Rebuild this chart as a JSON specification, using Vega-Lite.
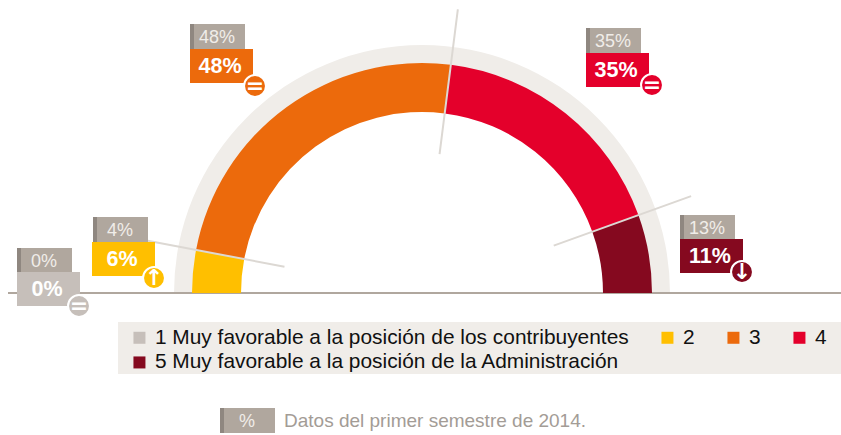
{
"$schema":"https://vega.github.io/schema/vega-lite/v6.json",
"width":841,"height":435,"padding":0,"background":"white",
"autosize":{"type":"fit","contains":"padding"},
"config":{"view":{"stroke":null},"font":"Liberation Sans"},
"datasets":{
"actual":[
{"nivel":1,"categoria":"1 Muy favorable a la posición de los contribuyentes","valor":0,"etiqueta":"0%","cambio":"="},
{"nivel":2,"categoria":"2","valor":6,"etiqueta":"6%","cambio":"↑"},
{"nivel":3,"categoria":"3","valor":48,"etiqueta":"48%","cambio":"="},
{"nivel":4,"categoria":"4","valor":35,"etiqueta":"35%","cambio":"="},
{"nivel":5,"categoria":"5 Muy favorable a la posición de la Administración","valor":11,"etiqueta":"11%","cambio":"↓"}],
"previo":[
{"nivel":1,"etiqueta":"0%"},{"nivel":2,"etiqueta":"4%"},{"nivel":3,"etiqueta":"48%"},{"nivel":4,"etiqueta":"35%"},{"nivel":5,"etiqueta":"13%"},{"nivel":6,"etiqueta":"%"}],
"limites":[{"limite":6},{"limite":54},{"limite":89}],
"nota":[{"nivel":6,"texto":"Datos del primer semestre de 2014."}],
"fondo":[{"inicio":0,"fin":100}]
},
"resolve":{"scale":{"x":"independent","y":"independent"}},
"layer":[
{"data":{"name":"fondo"},"mark":{"type":"arc","radius":248,"radius2":229,"fill":"#f0ede9"},
 "encoding":{"x":{"value":422},"y":{"value":293},"theta":{"field":"inicio","type":"quantitative","scale":{"domain":[0,100],"range":[-1.5708,1.5708]}},"theta2":{"field":"fin"}}},
{"data":{"name":"fondo"},"mark":{"type":"rule","color":"#b0a79e","strokeWidth":2},"encoding":{"x":{"value":8},"x2":{"value":841},"y":{"value":293}}},
{"data":{"name":"actual"},"mark":{"type":"arc","radius":230,"radius2":181},
 "encoding":{"x":{"value":422},"y":{"value":293},
  "theta":{"field":"valor","type":"quantitative","stack":true,"scale":{"domain":[0,100],"range":[-1.5708,1.5708]}},
  "order":{"field":"nivel"},
  "color":{"field":"categoria","type":"nominal","scale":{"domain":["1 Muy favorable a la posición de los contribuyentes","2","3","4","5 Muy favorable a la posición de la Administración"],"range":["#c6bfba","#ffbf00","#ec6a0c","#e4002b","#85091f"]},
   "legend":{"orient":"none","direction":"horizontal","legendX":129,"legendY":327,"title":null,"columns":4,"columnPadding":28,"rowPadding":3,"labelFontSize":20.9,"labelColor":"#111111","labelLimit":600,"labelOffset":5,"symbolType":"square","symbolSize":144,"symbolStrokeWidth":0,"symbolOpacity":1,"padding":0,"zindex":1}}}},
{"data":{"name":"limites"},"mark":{"type":"arc","radius":286,"radius2":140,"fill":null,"stroke":"#dcd8d3","strokeWidth":2},
 "encoding":{"x":{"value":422},"y":{"value":293},"theta":{"field":"limite","type":"quantitative","scale":{"domain":[0,100],"range":[-1.5708,1.5708]}},"theta2":{"field":"limite"}}},
{"data":{"name":"fondo"},"mark":{"type":"rect","fill":"#f0ede9"},"encoding":{"x":{"value":118},"x2":{"value":841},"y":{"value":322},"y2":{"value":374}}},
{"data":{"name":"previo"},"mark":{"type":"rect","fill":"#b0a79e","x2Offset":55,"y2Offset":25},
 "encoding":{"x":{"field":"nivel","type":"quantitative","axis":null,"scale":{"domain":[1,2,3,4,5,6],"range":[17,93,190,586,680,220],"nice":false,"zero":false}},"x2":{"field":"nivel"},
  "y":{"field":"nivel","type":"quantitative","axis":null,"scale":{"domain":[1,2,3,4,5,6],"range":[248,217,24,28,215,408],"nice":false,"zero":false}},"y2":{"field":"nivel"}}},
{"data":{"name":"previo"},"mark":{"type":"rect","fill":"#8f8780","x2Offset":4,"y2Offset":25},
 "encoding":{"x":{"field":"nivel","type":"quantitative","axis":null,"scale":{"domain":[1,2,3,4,5,6],"range":[17,93,190,586,680,220],"nice":false,"zero":false}},"x2":{"field":"nivel"},
  "y":{"field":"nivel","type":"quantitative","axis":null,"scale":{"domain":[1,2,3,4,5,6],"range":[248,217,24,28,215,408],"nice":false,"zero":false}},"y2":{"field":"nivel"}}},
{"data":{"name":"previo"},"mark":{"type":"text","fontSize":18,"color":"#f0ede9","align":"center","baseline":"middle","xOffset":27,"yOffset":14},
 "encoding":{"text":{"field":"etiqueta"},"x":{"field":"nivel","type":"quantitative","axis":null,"scale":{"domain":[1,2,3,4,5,6],"range":[17,93,190,586,680,220],"nice":false,"zero":false}},
  "y":{"field":"nivel","type":"quantitative","axis":null,"scale":{"domain":[1,2,3,4,5,6],"range":[248,217,24,28,215,408],"nice":false,"zero":false}}}},
{"data":{"name":"nota"},"mark":{"type":"text","fontSize":19,"color":"#a39c96","align":"left","baseline":"middle"},
 "encoding":{"text":{"field":"texto"},"x":{"field":"nivel","type":"quantitative","axis":null,"scale":{"domain":[1,6],"range":[0,284],"nice":false,"zero":false}},
  "y":{"field":"nivel","type":"quantitative","axis":null,"scale":{"domain":[1,6],"range":[0,421],"nice":false,"zero":false}}}},
{"data":{"name":"actual"},"mark":{"type":"rect","x2Offset":63,"y2Offset":34},
 "encoding":{"color":{"field":"categoria","type":"nominal"},
  "x":{"field":"nivel","type":"quantitative","axis":null,"scale":{"domain":[1,2,3,4,5],"range":[17,92,190,586,680],"nice":false,"zero":false}},"x2":{"field":"nivel"},
  "y":{"field":"nivel","type":"quantitative","axis":null,"scale":{"domain":[1,2,3,4,5],"range":[272,242,49,53,239],"nice":false,"zero":false}},"y2":{"field":"nivel"}}},
{"data":{"name":"actual"},"mark":{"type":"text","fontSize":21.5,"fontWeight":"bold","color":"white","align":"center","baseline":"middle","xOffset":30,"yOffset":18},
 "encoding":{"text":{"field":"etiqueta"},
  "x":{"field":"nivel","type":"quantitative","axis":null,"scale":{"domain":[1,2,3,4,5],"range":[17,92,190,586,680],"nice":false,"zero":false}},
  "y":{"field":"nivel","type":"quantitative","axis":null,"scale":{"domain":[1,2,3,4,5],"range":[272,242,49,53,239],"nice":false,"zero":false}}}},
{"data":{"name":"actual"},"mark":{"type":"point","shape":"circle","filled":true,"opacity":1,"size":480,"stroke":"white","strokeWidth":2},
 "encoding":{"color":{"field":"categoria","type":"nominal"},
  "x":{"field":"nivel","type":"quantitative","axis":null,"scale":{"domain":[1,2,3,4,5],"range":[79,154,255,652,742],"nice":false,"zero":false}},
  "y":{"field":"nivel","type":"quantitative","axis":null,"scale":{"domain":[1,2,3,4,5],"range":[306,278,86,85,272],"nice":false,"zero":false}}}},
{"data":{"name":"actual"},"mark":{"type":"text","font":"DejaVu Sans","fontSize":22,"fontWeight":"bold","color":"white","align":"center","baseline":"middle"},
 "encoding":{"text":{"field":"cambio"},
  "x":{"field":"nivel","type":"quantitative","axis":null,"scale":{"domain":[1,2,3,4,5],"range":[79,154,255,652,742],"nice":false,"zero":false}},
  "y":{"field":"nivel","type":"quantitative","axis":null,"scale":{"domain":[1,2,3,4,5],"range":[306,278,86,85,272],"nice":false,"zero":false}}}}
]}
